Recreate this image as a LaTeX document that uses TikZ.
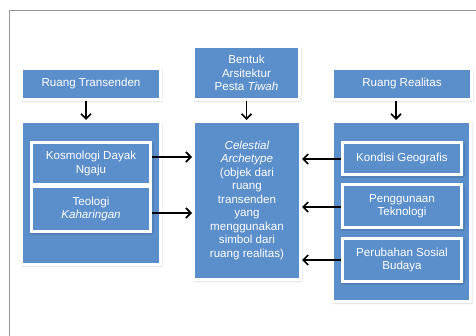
\documentclass[tikz,border=0pt]{standalone}
\usepackage{fontspec}
\setmainfont{Liberation Sans}
\usetikzlibrary{arrows.meta,shadows.blur,calc}
\definecolor{boxblue}{RGB}{91,143,203}
\definecolor{framegray}{RGB}{150,150,150}
\tikzset{
  bluebox/.style={fill=boxblue, draw=white, line width=3pt, text=white,
    font=\fontsize{11.6pt}{13.5pt}\selectfont, align=center, inner sep=0pt,
    blur shadow={shadow xshift=0.8pt, shadow yshift=-1.2pt, shadow blur radius=2pt,
      shadow blur steps=6, shadow opacity=35}},
  arr/.style={line width=1.7pt, -{Straight Barb[length=5pt,width=10pt]}}
}
\begin{document}
\begin{tikzpicture}[x=1pt,y=-1pt]
\useasboundingbox (0,0) rectangle (476,336);
\draw[framegray, line width=1pt] (9,336) -- (9,11) -- (476,11);
% top boxes
\node[bluebox, minimum width=139pt, minimum height=31pt] (rt) at (91,84) {Ruang Transenden};
\node[bluebox, minimum width=106pt, minimum height=53pt] (bt) at (246.5,73) {Bentuk\\Arsitektur\\Pesta \textit{Tiwah}};
\node[bluebox, minimum width=139pt, minimum height=31pt] (rr) at (402,84) {Ruang Realitas};
% containers
\node[bluebox, minimum width=139pt, minimum height=143pt] (lc) at (91,193) {};
\node[bluebox, minimum width=107pt, minimum height=158pt] (cen) at (247,200.5) {\textit{Celestial}\\\textit{Archetype}\\(objek dari\\ruang\\transenden\\yang\\menggunakan\\simbol dari\\ruang realitas)};
\node[bluebox, minimum width=138pt, minimum height=180pt] (rc) at (401.5,211.5) {};
% inner boxes
\node[bluebox, minimum width=119pt, minimum height=42pt] (kos) at (91,163.5) {Kosmologi Dayak\\Ngaju};
\node[bluebox, minimum width=119pt, minimum height=45pt] (teo) at (91,209) {Teologi\\\textit{Kaharingan}};
\node[bluebox, minimum width=119pt, minimum height=32pt] (kon) at (402,158.5) {Kondisi Geografis};
\node[bluebox, minimum width=119pt, minimum height=43pt] (pen) at (402,206) {Penggunaan\\Teknologi};
\node[bluebox, minimum width=119pt, minimum height=43pt] (per) at (402,260) {Perubahan Sosial\\Budaya};
% down arrows
\draw[arr] ([xshift=-5pt]rt.south) coordinate (d1) -- (d1 |- lc.north);
\draw[arr] (bt.south) -- (bt.south |- cen.north);
\draw[arr] ([xshift=-6pt]rr.south) coordinate (d3) -- (d3 |- rc.north);
% horizontal arrows
\draw[arr] ([yshift=6.5pt]kos.east) coordinate (h1) -- (h1 -| cen.west);
\draw[arr] ([yshift=-4pt]teo.east) coordinate (h2) -- (h2 -| cen.west);
\draw[arr] ([yshift=-0.5pt]kon.west) coordinate (h3) -- (h3 -| cen.east);
\draw[arr] ([yshift=-1pt]pen.west) coordinate (h4) -- (h4 -| cen.east);
\draw[arr] (per.west) -- (per.west -| cen.east);
\end{tikzpicture}
\end{document}
